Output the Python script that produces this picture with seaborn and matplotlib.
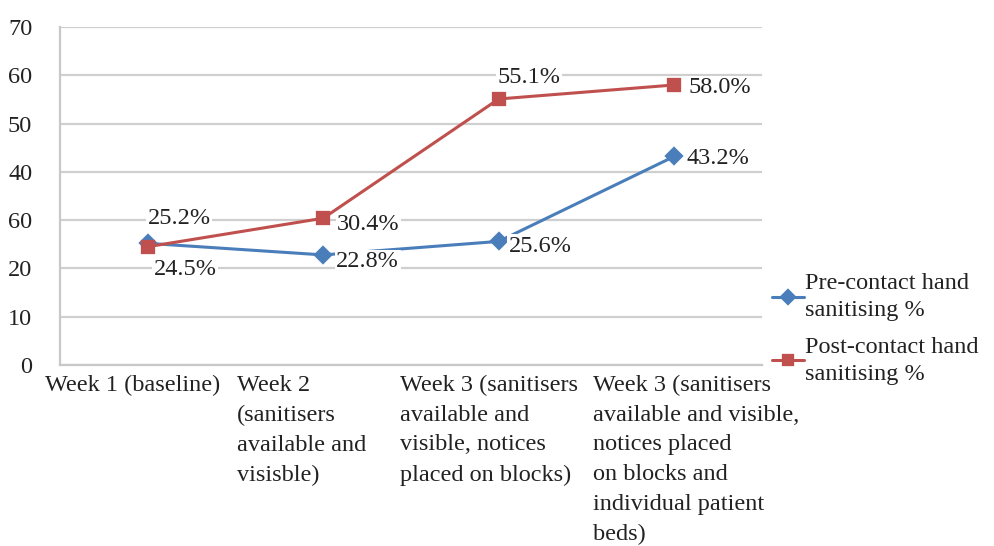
import numpy as np
import pandas as pd
import seaborn as sns
import matplotlib.pyplot as plt
import matplotlib.transforms as mtransforms

# Kategoriler ve değerler
weeks = [
    "Week 1 (baseline)",
    "Week 2\n(sanitisers\navailable and\nvisisble)",
    "Week 3 (sanitisers\navailable and\nvisible, notices\nplaced on blocks)",
    "Week 3 (sanitisers\navailable and visible,\nnotices placed\non blocks and\nindividual patient\nbeds)",
]
pre_contact = [25.2, 22.8, 25.6, 43.2]
post_contact = [24.5, 30.4, 55.1, 58.0]
series_names = ["Pre-contact hand\nsanitising %", "Post-contact hand\nsanitising %"]
y_ticks = [0, 10, 20, 30, 40, 50, 60, 70]
y_tick_labels = ["0", "10", "20", "60", "40", "50", "60", "70"]

# etiket kaydırmaları (piksel)
pre_offsets = [(0, 25), (13, -7), (10, -5), (12, -2)]
post_offsets = [(6, -23), (14, -6), (-1, 21), (14, -3)]
xlabel_shift = [-15, -22, -10, 22]

df = pd.DataFrame({
    "week": weeks * 2,
    "value": pre_contact + post_contact,
    "series": [series_names[0]] * 4 + [series_names[1]] * 4,
})

sns.set_style("white")
plt.rcParams["font.family"] = ["Liberation Serif", "DejaVu Serif"]
fs = 17.5

blue = "#4A7EBB"
red = "#C0504D"

fig = plt.figure(figsize=(9.95, 5.46), dpi=100)
ax = fig.add_axes([0.0603, 0.3315, 0.7055, 0.619])

sns.pointplot(data=df, x="week", y="value", hue="series", order=weeks,
              palette=[blue, red], markers=["D", "s"], linestyles="-",
              markersize=8, linewidth=2.2, ax=ax)

ax.set_ylim(0, 70)
ax.set_xlim(-0.5, 3.5)
ax.set_yticks(y_ticks)
ax.set_yticklabels(y_tick_labels)
ax.yaxis.grid(True, color="#CFCFCF", linewidth=1.6)
ax.set_axisbelow(True)
ax.set_xlabel("")
ax.set_ylabel("")
for side in ["top", "right"]:
    ax.spines[side].set_visible(False)
for side in ["left", "bottom"]:
    ax.spines[side].set_color("#C8C8C8")
    ax.spines[side].set_linewidth(1.6)
ax.tick_params(axis="both", length=0, labelsize=fs, colors="#222222")
ax.tick_params(axis="y", pad=20)
ax.tick_params(axis="x", pad=7)
for lab, dx in zip(ax.get_xticklabels(), xlabel_shift):
    lab.set_multialignment("left")
    lab.set_verticalalignment("top")
    lab.set_linespacing(1.55)
    lab.set_transform(lab.get_transform() +
                      mtransforms.ScaledTranslation(dx / 100, 0, fig.dpi_scale_trans))

# Veri etiketleri
box = dict(facecolor="white", edgecolor="none", pad=1.0)
for vals, offs in [(pre_contact, pre_offsets), (post_contact, post_offsets)]:
    for i, (v, o) in enumerate(zip(vals, offs)):
        ax.annotate(f"{v:.1f}%", xy=(i, v), xytext=o, textcoords="offset pixels",
                    ha="left", va="center", fontsize=fs, color="#222222",
                    bbox=box, zorder=5)

ax.get_legend().remove()
handles, labels = ax.get_legend_handles_labels()
for h in handles:
    h.set_markersize(7)
leg = fig.legend(handles, labels, loc="upper left", bbox_to_anchor=(0.776, 0.4995),
                 frameon=False, fontsize=fs, handlelength=1.3, handletextpad=0.05,
                 labelspacing=0.66, borderpad=0, borderaxespad=0,
                 labelcolor="#222222")
for t in leg.get_texts():
    t.set_linespacing(1.36)

fig.savefig("out.png", dpi=100)
